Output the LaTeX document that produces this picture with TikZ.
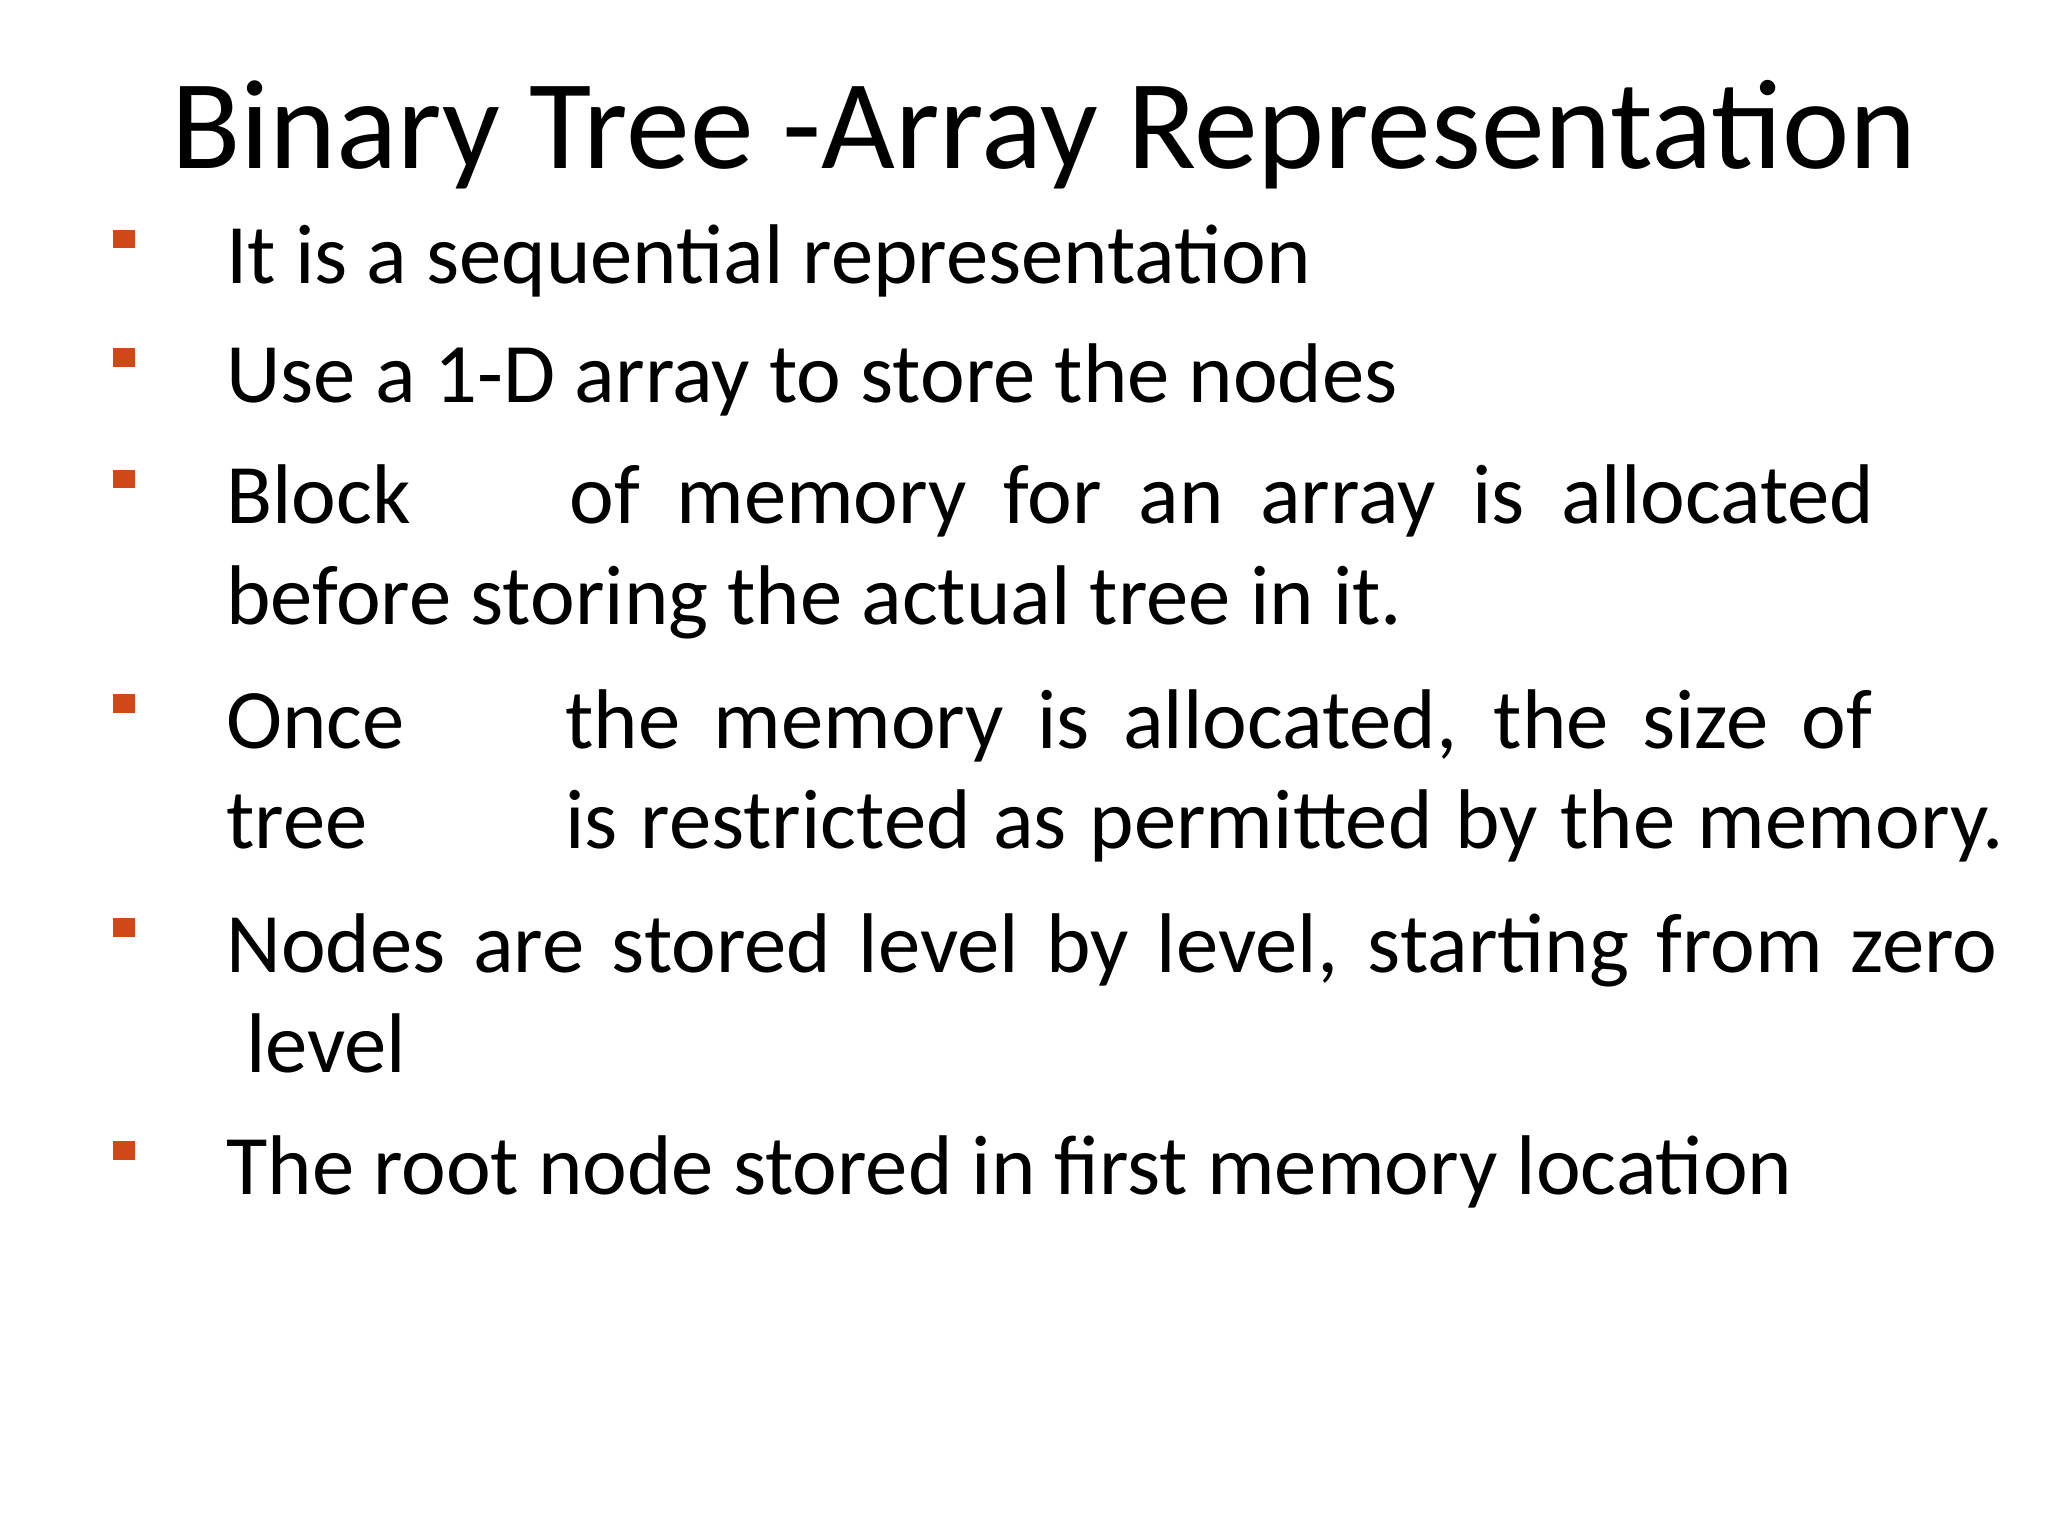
\documentclass[tikz,border=0pt]{standalone}
\usepackage{fontspec}
\setmainfont{Carlito}
\definecolor{bul}{RGB}{209,72,24}
\begin{document}
\begin{tikzpicture}[x=0.0132cm,y=-0.0132cm,
  body/.style={anchor=base west,inner sep=0pt,font=\fontsize{24.1}{29}\selectfont},
  bullet/.style={fill=bul,draw=none}]
\useasboundingbox (0,0) rectangle (1552,1164);
\node[anchor=base,inner sep=0pt,font=\fontsize{36.3}{42}\selectfont] (title) at (791,128) {Binary Tree -Array Representation};
\foreach \y/\n in {181/b1,271/b2,363/b3,533/b4,703/b5,872/b6}
  \fill[bullet] (86,\y-7) rectangle (102,\y+7);
\node[body] (l1) at (171,215) {It is a sequential representation};
\node[body] (l2) at (171,305) {Use a 1-D array to store the nodes};
\node[body] (l3a) at (171,397) {Block};
\node[body] (l3b) at (431,397) {\makebox[13.05cm][s]{of memory for an array is allocated}};
\node[body] (l3c) at (171,473) {before storing the actual tree in it.};
\node[body] (l4a) at (171,567) {Once};
\node[body] (l4b) at (428,567) {\makebox[13.07cm][s]{the memory is allocated, the size of}};
\node[body] (l4c) at (171,643) {tree};
\node[body] (l4d) at (428,643) {\makebox[14.39cm][s]{is restricted as permitted by the memory.}};
\node[body] (l5a) at (171,737) {\makebox[17.71cm][s]{Nodes are stored level by level, starting from zero}};
\node[body] (l5b) at (186,813) {level};
\node[body] (l6) at (171,905) {The root node stored in first memory location};
\end{tikzpicture}
\end{document}
